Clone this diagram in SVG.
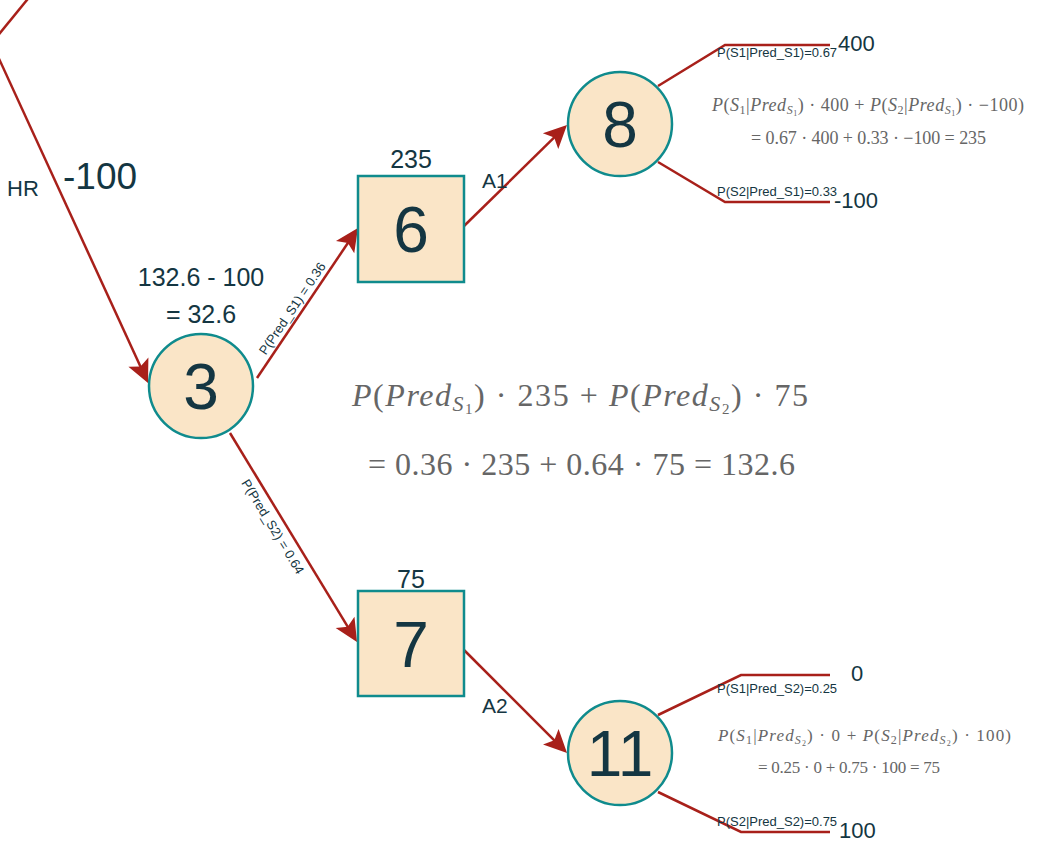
<svg xmlns="http://www.w3.org/2000/svg" width="1049" height="850" viewBox="0 0 1049 850">
<style>
.bg{fill:#ffffff}
.n{fill:#FAE5C7;stroke:#0F8B8D;stroke-width:2.5}
.nt{font-family:"Liberation Sans",Arial,sans-serif;font-size:64px;fill:#143642;text-anchor:middle}
.e{stroke:#A8201A;stroke-width:2.5;fill:none}
.ea{marker-end:url(#arr)}
.lb{font-family:"Liberation Sans",Arial,sans-serif;fill:#143642}
.pl{font-family:"Liberation Sans",Arial,sans-serif;font-size:13px;fill:#143642}
.m{font-family:"Liberation Serif","DejaVu Serif",serif;fill:#666666}
.i{font-style:italic}
</style>
<defs>
<marker id="arr" markerUnits="userSpaceOnUse" viewBox="0 0 24 24" refX="18" refY="12" markerWidth="24" markerHeight="24" orient="auto">
<path d="M1,1 L24,12 L1,23 L6,12 Z" fill="#A8201A"/>
</marker>
</defs>
<rect class="bg" x="0" y="0" width="1049" height="850"/>

<g id="connectors">
<line class="e" x1="-4" y1="38" x2="31" y2="-5"/>
<line class="e ea" x1="-5" y1="50" x2="145.5" y2="377.5"/>
<line class="e ea" x1="257" y1="378" x2="354.6" y2="233"/>
<line class="e ea" x1="463" y1="227" x2="562.7" y2="129.2"/>
<line class="e ea" x1="230" y1="433" x2="353.9" y2="636.9"/>
<line class="e ea" x1="463" y1="649" x2="562.8" y2="748.8"/>
<polyline class="e" points="658,86 725,45 830,45"/>
<polyline class="e" points="658,162 725,202 830,202"/>
<polyline class="e" points="658,715 741,675 830,675"/>
<polyline class="e" points="658,792 741,832 830,832"/>
</g>

<g id="edge-labels">
<text class="lb" x="7" y="196" font-size="22">HR</text>
<text class="lb" x="63" y="189" font-size="37">-100</text>
<text class="pl" transform="translate(296,311) rotate(-56)" text-anchor="middle">P(Pred_S1) = 0.36</text>
<text class="pl" transform="translate(269,529) rotate(58.7)" text-anchor="middle">P(Pred_S2) = 0.64</text>
<text class="lb" x="482" y="188" font-size="21">A1</text>
<text class="lb" x="482" y="713" font-size="21">A2</text>
<text class="pl" x="717" y="57">P(S1|Pred_S1)=0.67</text>
<text class="pl" x="717" y="196">P(S2|Pred_S1)=0.33</text>
<text class="pl" x="717" y="693">P(S1|Pred_S2)=0.25</text>
<text class="pl" x="717" y="826">P(S2|Pred_S2)=0.75</text>
<text class="lb" x="838" y="51" font-size="22">400</text>
<text class="lb" x="834" y="208" font-size="22">-100</text>
<text class="lb" x="851" y="681" font-size="22">0</text>
<text class="lb" x="839" y="838" font-size="22">100</text>
</g>

<g id="node3">
<circle class="n" cx="201" cy="386" r="52"/>
<text class="nt" x="201" y="409">3</text>
<text class="lb" x="201" y="286" font-size="25" text-anchor="middle">132.6 - 100</text>
<text class="lb" x="201" y="323" font-size="25" text-anchor="middle">= 32.6</text>
</g>

<g id="node6">
<rect class="n" x="358" y="176" width="106" height="106"/>
<text class="nt" x="411" y="252">6</text>
<text class="lb" x="411" y="168" font-size="25" text-anchor="middle">235</text>
</g>

<g id="node7">
<rect class="n" x="358" y="591" width="106" height="105"/>
<text class="nt" x="411" y="667">7</text>
<text class="lb" x="411" y="588" font-size="25" text-anchor="middle">75</text>
</g>

<g id="node8">
<circle class="n" cx="620" cy="124" r="52"/>
<text class="nt" x="620" y="147">8</text>
</g>

<g id="node11">
<circle class="n" cx="620" cy="753" r="52"/>
<text class="nt" x="620" y="776">11</text>
</g>

<g id="formula-main">
<text class="m" x="352" y="406" font-size="32" textLength="456" lengthAdjust="spacing"><tspan class="i">P</tspan>(<tspan class="i">Pred</tspan><tspan class="i" font-size="22" dy="5">S</tspan><tspan font-size="15" dy="3">1</tspan><tspan dy="-8">) · 235 + </tspan><tspan class="i">P</tspan>(<tspan class="i">Pred</tspan><tspan class="i" font-size="22" dy="5">S</tspan><tspan font-size="15" dy="3">2</tspan><tspan dy="-8">) · 75</tspan></text>
<text class="m" x="368" y="475" font-size="32" textLength="427" lengthAdjust="spacing">= 0.36 · 235 + 0.64 · 75 = 132.6</text>
</g>

<g id="formula-8">
<text class="m" x="712" y="111" font-size="18" textLength="312" lengthAdjust="spacing"><tspan class="i">P</tspan>(<tspan class="i">S</tspan><tspan font-size="12" dy="3">1</tspan><tspan dy="-3">|</tspan><tspan class="i">Pred</tspan><tspan class="i" font-size="12" dy="3">S</tspan><tspan font-size="8" dy="2">1</tspan><tspan dy="-5">) · 400 + </tspan><tspan class="i">P</tspan>(<tspan class="i">S</tspan><tspan font-size="12" dy="3">2</tspan><tspan dy="-3">|</tspan><tspan class="i">Pred</tspan><tspan class="i" font-size="12" dy="3">S</tspan><tspan font-size="8" dy="2">1</tspan><tspan dy="-5">) · −100)</tspan></text>
<text class="m" x="751" y="144" font-size="18" textLength="235" lengthAdjust="spacing">= 0.67 · 400 + 0.33 · −100 = 235</text>
</g>

<g id="formula-11">
<text class="m" x="718" y="741" font-size="17" textLength="293" lengthAdjust="spacing"><tspan class="i">P</tspan>(<tspan class="i">S</tspan><tspan font-size="12" dy="3">1</tspan><tspan dy="-3">|</tspan><tspan class="i">Pred</tspan><tspan class="i" font-size="12" dy="3">S</tspan><tspan font-size="8" dy="2">2</tspan><tspan dy="-5">) · 0 + </tspan><tspan class="i">P</tspan>(<tspan class="i">S</tspan><tspan font-size="12" dy="3">2</tspan><tspan dy="-3">|</tspan><tspan class="i">Pred</tspan><tspan class="i" font-size="12" dy="3">S</tspan><tspan font-size="8" dy="2">2</tspan><tspan dy="-5">) · 100)</tspan></text>
<text class="m" x="758" y="773" font-size="17" textLength="182" lengthAdjust="spacing">= 0.25 · 0 + 0.75 · 100 = 75</text>
</g>
</svg>
